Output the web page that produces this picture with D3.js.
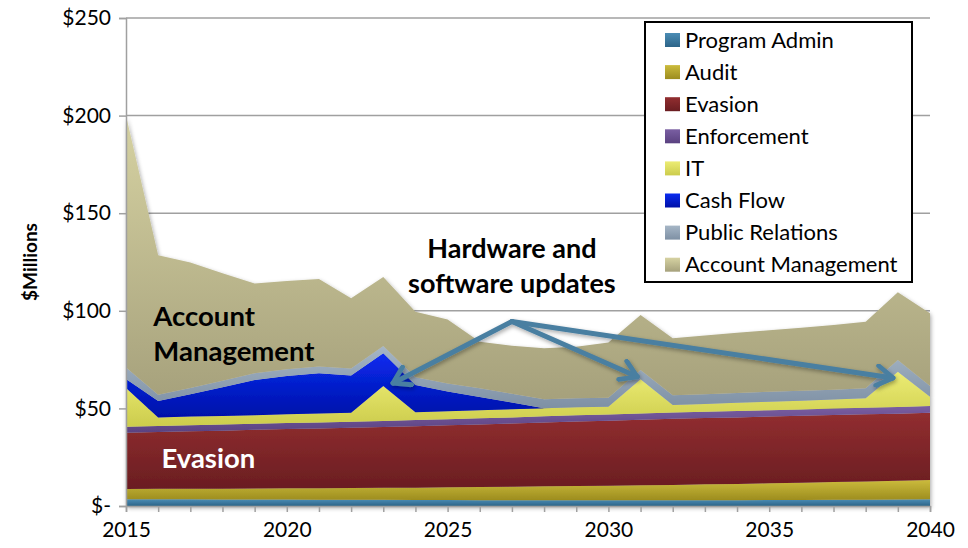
<!DOCTYPE html>
<html>
<head>
<meta charset="utf-8">
<title>Program cost by function</title>
<script src="https://cdn.jsdelivr.net/npm/d3@7"></script>
<style>
    body { margin: 0; background: #fff; }
    text { font-family: Lato, "Open Sans", sans-serif; fill: #000; }
    .grid line { stroke: #a0a0a0; stroke-width: 1.5; }
    .axis path, .axis line { stroke: #a0a0a0; stroke-width: 1.5; }
    .axis text { font-size: 21px; }
</style>
</head>
<body>
<script>
var years = d3.range(2015, 2041);

// $ millions per year
var programAdmin = [3.4,3.4,3.4,3.3,3.3,3.3,3.2,3.2,3.2,3.1,3.1,3.0,3.0,3.0,3.0,2.9,2.9,2.9,3.0,3.0,3.1,3.1,3.2,3.2,3.3,3.4];
var audit = [5.3,5.4,5.5,5.6,5.7,5.8,5.9,6.0,6.1,6.3,6.5,6.7,6.9,7.1,7.3,7.5,7.7,7.9,8.1,8.3,8.5,8.8,9.1,9.4,9.6,9.9];
var evasion = [28.8,29.1,29.4,29.7,30.0,30.3,30.6,30.9,31.2,31.5,31.8,32.1,32.4,32.7,33.0,33.3,33.6,33.9,34.0,34.1,34.2,34.3,34.3,34.4,34.4,34.5];
var enforcement = [3.1,3.1,3.1,3.1,3.1,3.1,3.1,3.1,3.1,3.1,3.1,3.1,3.1,3.2,3.2,3.2,3.2,3.2,3.2,3.3,3.3,3.3,3.3,3.3,3.4,3.4];
var it = [19.8,4.4,4.4,4.4,4.4,4.5,4.6,4.6,17.9,4.0,4.1,4.2,4.2,4.1,4.1,4.0,17.5,3.9,4.0,4.2,4.3,4.4,4.6,4.9,18.1,4.8];
var cashFlow = [4.6,8.4,11.4,14.7,18.0,19.6,20.6,19.1,16.7,14.0,10.0,6.8,3.4,0,0,0,0,0,0,0,0,0,0,0,0,0];
var publicRelations = [6.0,3.2,3.3,3.4,3.5,3.5,3.5,3.6,3.8,4.0,4.2,4.4,4.5,4.6,4.6,4.6,4.8,5.0,5.0,5.0,5.1,5.1,5.1,5.1,6.0,5.5];
var accountManagement = [129.0,71.5,64.2,55.0,46.0,45.2,44.8,35.9,35.3,33.5,32.7,23.9,24.6,26.1,26.4,28.2,28.1,29.1,30.0,30.8,31.5,32.3,33.1,34.1,34.7,37.2];

var seriesNames = ["Program Admin", "Audit", "Evasion", "Enforcement", "IT",
                   "Cash Flow", "Public Relations", "Account Management"];
var seriesValues = [programAdmin, audit, evasion, enforcement, it,
                    cashFlow, publicRelations, accountManagement];
// top / bottom colour of each gradient
var seriesColors = [["#4b8cb4", "#2c6488"], ["#cbbb3c", "#9c8c1e"], ["#922e30", "#6a1d21"],
                    ["#7a5fa2", "#5a4180"], ["#ecec74", "#cccc4c"], ["#0a2cf0", "#0010a8"],
                    ["#a6b6c6", "#7e90a4"], ["#d6d2a2", "#a6a17c"]];

var yTicks = [0, 50, 100, 150, 200, 250];
var xTicks = [2015, 2020, 2025, 2030, 2035, 2040];

var width = 968, height = 548;
var margin = {top: 18, right: 38, bottom: 42, left: 126};

var table = years.map(function (yr, i) {
    var row = {year: yr};
    seriesNames.forEach(function (n, k) { row[n] = seriesValues[k][i]; });
    return row;
});

var stacked = d3.stack().keys(seriesNames)(table);

var x = d3.scaleLinear().domain([2015, 2040]).range([margin.left, width - margin.right]);
var y = d3.scaleLinear().domain([0, 250]).range([height - margin.bottom, margin.top]);

var svg = d3.select("body").append("svg")
    .attr("width", width)
    .attr("height", height);

var defs = svg.append("defs");
seriesColors.forEach(function (c, k) {
    var g = defs.append("linearGradient")
        .attr("id", "grad" + k)
        .attr("x1", 0).attr("y1", 0).attr("x2", 0).attr("y2", 1);
    g.append("stop").attr("offset", "0%").attr("stop-color", c[0]);
    g.append("stop").attr("offset", "100%").attr("stop-color", c[1]);
});

var shadow = defs.append("filter").attr("id", "shadow")
    .attr("x", "-10%").attr("y", "-10%").attr("width", "120%").attr("height", "130%");
shadow.append("feDropShadow")
    .attr("dx", 1).attr("dy", 2).attr("stdDeviation", 2)
    .attr("flood-color", "#000").attr("flood-opacity", 0.35);

defs.append("marker")
    .attr("id", "head")
    .attr("viewBox", "0 0 12 12")
    .attr("refX", 10).attr("refY", 6)
    .attr("markerWidth", 24).attr("markerHeight", 24)
    .attr("markerUnits", "userSpaceOnUse")
    .attr("orient", "auto")
  .append("path")
    .attr("d", "M2,1 L10,6 L2,11")
    .attr("fill", "none")
    .attr("stroke", "#4a7fa1")
    .attr("stroke-width", 2.4)
    .attr("stroke-linecap", "round")
    .attr("stroke-linejoin", "round");

// gridlines
svg.append("g").attr("class", "grid")
    .selectAll("line")
    .data(yTicks.slice(1))
    .enter().append("line")
    .attr("x1", margin.left).attr("x2", width - margin.right)
    .attr("y1", function (d) { return y(d); })
    .attr("y2", function (d) { return y(d); });

var area = d3.area()
    .x(function (d) { return x(d.data.year); })
    .y0(function (d) { return y(d[0]); })
    .y1(function (d) { return y(d[1]); });

svg.append("g")
    .attr("filter", "url(#shadow)")
    .selectAll("path")
    .data(stacked)
    .enter().append("path")
    .attr("d", area)
    .attr("fill", function (d, k) { return "url(#grad" + k + ")"; });

// axes
svg.append("g").attr("class", "axis")
    .attr("transform", "translate(" + margin.left + ",0)")
    .call(d3.axisLeft(y).tickValues(yTicks).tickSize(7).tickPadding(8)
        .tickFormat(function (d) { return d === 0 ? "$-" : "$" + d; }));

svg.append("g").attr("class", "axis")
    .attr("transform", "translate(0," + y(0) + ")")
    .call(d3.axisBottom(x).tickValues(years).tickSize(6).tickPadding(10)
        .tickFormat(function (d) { return xTicks.indexOf(d) >= 0 ? d : ""; }));

svg.selectAll(".axis .domain").attr("stroke", "#a0a0a0");

svg.append("text")
    .attr("transform", "translate(37," + y(125) + ") rotate(-90)")
    .attr("text-anchor", "middle")
    .style("font-size", "19px")
    .style("font-weight", "bold")
    .text("$Millions");

// in-chart labels
var bigLabel = svg.append("g")
    .style("font-size", "27.5px")
    .style("font-weight", "bold");
bigLabel.append("text").attr("x", x(2015.85)).attr("y", y(92)).text("Account");
bigLabel.append("text").attr("x", x(2015.85)).attr("y", y(74.5)).text("Management");
bigLabel.append("text").attr("x", x(2016.1)).attr("y", y(19.5)).style("fill", "#fff").text("Evasion");

var note = svg.append("g")
    .style("font-size", "27px")
    .style("font-weight", "bold")
    .attr("text-anchor", "middle");
note.append("text").attr("x", x(2027)).attr("y", y(127)).text("Hardware and");
note.append("text").attr("x", x(2027)).attr("y", y(109)).text("software updates");

// arrows from the note to the IT peaks
var arrowFrom = [2027, 94.5];
var arrowTo = [[2023.3, 62.9], [2030.9, 66.2], [2038.85, 65.6]];
svg.append("g")
    .attr("filter", "url(#shadow)")
    .selectAll("line")
    .data(arrowTo)
    .enter().append("line")
    .attr("x1", x(arrowFrom[0])).attr("y1", y(arrowFrom[1]))
    .attr("x2", function (d) { return x(d[0]); })
    .attr("y2", function (d) { return y(d[1]); })
    .attr("stroke", "#4a7fa1")
    .attr("stroke-width", 5)
    .attr("stroke-linecap", "round")
    .attr("marker-end", "url(#head)");

// legend
var legend = svg.append("g").attr("transform", "translate(645,22)");
legend.append("rect")
    .attr("width", 267).attr("height", 260)
    .attr("fill", "#fff")
    .attr("stroke", "#000")
    .attr("stroke-width", 2);
var item = legend.selectAll(".item")
    .data(seriesNames)
    .enter().append("g")
    .attr("transform", function (d, k) { return "translate(20," + (18 + k * 32.1) + ")"; });
item.append("rect")
    .attr("y", -7).attr("width", 15).attr("height", 14)
    .attr("fill", function (d, k) { return "url(#grad" + k + ")"; });
item.append("text")
    .attr("x", 20).attr("dy", "0.35em")
    .style("font-size", "22px")
    .text(function (d) { return d; });
</script>
</body>
</html>
